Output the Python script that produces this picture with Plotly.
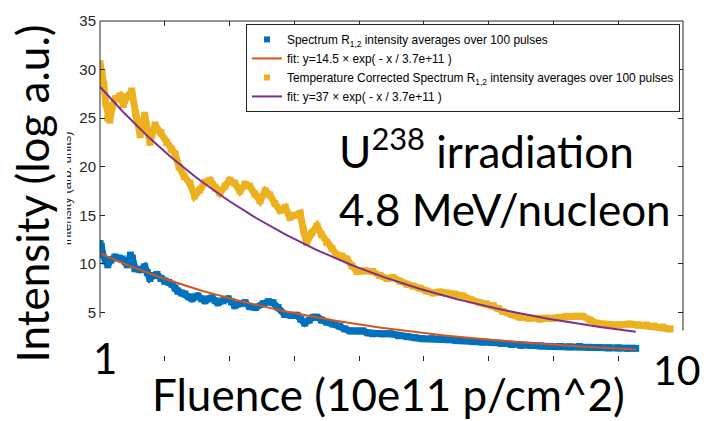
import plotly.graph_objects as go
import numpy as np

# ---------------- data (x in units of 1e11 p/cm^2) ----------------
blue_x = [1.00, 1.02, 1.04, 1.08, 1.12, 1.17, 1.23, 1.29, 1.34, 1.39, 1.42, 1.47, 1.50, 1.54,
          1.62, 1.69, 1.73, 1.77, 1.83, 1.88, 1.94, 2.00, 2.06, 2.11, 2.16, 2.20, 2.26, 2.31,
          2.37, 2.42, 2.47, 2.51, 2.57, 2.62, 2.68, 2.73, 2.78, 2.82, 2.90, 2.98, 3.03, 3.08,
          3.16, 3.24, 3.31, 3.40, 3.52, 3.60, 3.67, 3.75, 3.85, 3.95, 4.04, 4.10, 4.16, 4.23,
          4.29, 4.35, 4.42, 4.50, 4.60, 4.70, 4.78, 4.86, 4.96, 5.06, 5.13, 5.21, 5.35, 5.48,
          5.61, 5.74, 5.86, 5.98, 6.12, 6.25, 6.38, 6.50, 6.63, 6.76, 6.90, 7.05, 7.20, 7.35,
          7.50, 7.64, 7.80, 7.95, 8.10, 8.25, 8.40, 8.55, 8.70, 8.85, 9.00, 9.15, 9.27]
blue_y = [12.1, 11.8, 11.0, 10.3, 9.9, 10.4, 10.7, 10.6, 10.5, 10.2, 9.9, 10.9, 10.6, 9.5,
          9.4, 9.7, 9.1, 8.5, 8.8, 8.9, 8.5, 8.2, 8.1, 7.9, 7.5, 7.2, 7.0, 6.9,
          6.6, 6.4, 6.6, 6.7, 6.4, 6.2, 6.4, 6.5, 6.2, 6.0, 6.2, 6.4, 6.1, 5.7,
          5.9, 6.0, 5.6, 5.5, 5.9, 6.1, 6.0, 5.5, 4.8, 4.7, 4.7, 4.3, 3.9, 4.2,
          4.5, 4.5, 4.2, 4.0, 3.8, 3.6, 3.3, 3.1, 3.1, 3.1, 2.9, 2.8, 2.8, 2.8,
          2.6, 2.5, 2.4, 2.3, 2.3, 2.3, 2.2, 2.1, 2.1, 2.0, 1.95, 1.9, 1.8, 1.7,
          1.6, 1.6, 1.55, 1.5, 1.5, 1.45, 1.5, 1.4, 1.4, 1.35, 1.35, 1.3, 1.3]

yel_x = [1.00, 1.03, 1.06, 1.09, 1.12, 1.15, 1.19, 1.24, 1.31, 1.36, 1.42, 1.49, 1.55, 1.62,
         1.69, 1.77, 1.85, 1.94, 2.03, 2.10, 2.16, 2.22, 2.30, 2.39, 2.46, 2.54, 2.62, 2.70,
         2.78, 2.85, 2.93, 3.00, 3.08, 3.16, 3.24, 3.31, 3.39, 3.47, 3.55, 3.62, 3.70, 3.78,
         3.86, 3.93, 4.01, 4.09, 4.14, 4.19, 4.27, 4.35, 4.42, 4.50, 4.58, 4.66, 4.73, 4.81,
         4.89, 4.97, 5.09, 5.21, 5.32, 5.43, 5.52, 5.63, 5.74, 5.84, 5.94, 6.04, 6.14, 6.25,
         6.35, 6.47, 6.60, 6.73, 6.86, 6.96, 7.07, 7.15, 7.22, 7.35, 7.48, 7.63, 7.79, 7.89,
         7.99, 8.10, 8.20, 8.33, 8.45, 8.56, 8.67, 8.77, 8.87, 9.02, 9.18, 9.31, 9.44, 9.56,
         9.69, 9.80]
yel_y = [30.6, 29.6, 28.4, 26.5, 25.0, 24.8, 26.2, 27.0, 27.3, 26.4, 27.2, 27.8, 25.5, 23.3,
         25.3, 22.5, 24.3, 23.5, 22.5, 21.8, 21.3, 20.0, 19.0, 18.3, 17.0, 17.6, 18.4, 18.6,
         17.8, 17.3, 18.0, 18.6, 18.3, 17.5, 18.2, 18.0, 17.2, 16.5, 17.5, 17.1, 16.2, 15.5,
         15.8, 14.8, 15.0, 15.2, 13.5, 12.2, 13.2, 13.9, 13.0, 12.2, 11.6, 10.9, 10.8, 10.5,
         9.8, 9.2, 9.3, 9.2, 8.8, 8.5, 8.6, 8.2, 7.9, 7.7, 7.5, 7.2, 7.0, 7.1,
         7.0, 6.9, 6.7, 6.3, 6.0, 5.9, 5.7, 5.4, 5.1, 4.8, 4.5, 4.4, 4.3, 4.4,
         4.4, 4.5, 4.6, 4.6, 4.6, 4.2, 3.9, 3.8, 3.7, 3.7, 3.8, 3.7, 3.7, 3.6,
         3.5, 3.3]

# fit parameters as given in the legend: y = A * exp(-x / tau), tau = 3.7e11 -> 3.7 in 1e11 units
fit1_A = 14.5
fit2_A = 37.0
fit_tau = 3.7
fit_x_start = 1.0
fit_x_end = 9.27

y_ticks = [5, 10, 15, 20, 25, 30, 35]
x_ticks = [1, 2, 3, 4, 5, 6, 7, 8, 9, 10]

BLUE = "#0072BD"
ORANGE = "#D95319"
YELLOW = "#EDB120"
PURPLE = "#7E2F8E"
AXC = "#262626"

fit_x = np.linspace(fit_x_start, fit_x_end, 200)
fit1_y = fit1_A * np.exp(-fit_x / fit_tau)
fit2_y = fit2_A * np.exp(-fit_x / fit_tau)

W, H = 704, 421
L, R, T, B = 100, 21, 14, 60
PW, PH = W - L - R, H - T - B


def px(xp):
    return (xp - L) / PW


def py(yp):
    return (H - B - yp) / PH


fig = go.Figure()

band = dict(mode="lines+markers", line=dict(width=7), marker=dict(symbol="square", size=7),
            showlegend=False, hoverinfo="skip")
fig.add_trace(go.Scatter(x=blue_x, y=blue_y, line_color=BLUE, marker_color=BLUE, **band))
fig.add_trace(go.Scatter(x=fit_x, y=fit1_y, mode="lines", line=dict(color=ORANGE, width=2),
                         name="fit: y=14.5 × exp( - x / 3.7e+11 )", legendrank=2))
fig.add_trace(go.Scatter(x=yel_x, y=yel_y, line_color=YELLOW, marker_color=YELLOW, **band))
fig.add_trace(go.Scatter(x=fit_x, y=fit2_y, mode="lines", line=dict(color=PURPLE, width=2),
                         name="fit: y=37 × exp( - x / 3.7e+11 )", legendrank=4))
# legend-only markers for the data series
fig.add_trace(go.Scatter(x=[None], y=[None], mode="markers",
                         marker=dict(symbol="square", size=6, color=BLUE),
                         name="Spectrum R<sub>1,2</sub> intensity averages over 100 pulses", legendrank=1))
fig.add_trace(go.Scatter(x=[None], y=[None], mode="markers",
                         marker=dict(symbol="square", size=6, color=YELLOW),
                         name="Temperature Corrected Spectrum R<sub>1,2</sub> intensity averages over 100 pulses",
                         legendrank=3))

big = dict(family="Lato, 'Open Sans', sans-serif", color="black")
C = dict(xref="paper", yref="paper", xanchor="center", yanchor="middle", showarrow=False)

annotations = [
    # original (mostly covered) axis title
    dict(text="Intensity (arb. units)", x=px(67), y=py(185), textangle=-90,
         font=dict(family="Liberation Sans, Arial", size=13, color=AXC), **C),
    dict(text="Intensity (log a.u.)", x=px(32), y=py(190), textangle=-90,
         font=dict(size=44, **big), bgcolor="white", height=68, **C),
    dict(text="Fluence (10e11 p/cm^2)", x=px(388), y=py(395), font=dict(size=44, **big), **C),
    dict(text="1", x=px(105), y=py(358), font=dict(size=42, **big), bgcolor="white", **C),
    dict(text="10", x=px(677), y=py(370), font=dict(size=41, **big), bgcolor="white", **C),
    dict(text="U<sup>238</sup> irradiation<br>4.8 MeV/nucleon", x=px(337), y=py(174),
         xref="paper", yref="paper", xanchor="left", yanchor="middle", align="left",
         showarrow=False, font=dict(size=44, **big)),
]

shapes = [
    dict(type="line", xref="paper", yref="paper", x0=0, x1=1, y0=1, y1=1, line=dict(color=AXC, width=1)),
    dict(type="line", xref="paper", yref="paper", x0=0, x1=0, y0=1, y1=py(317), line=dict(color=AXC, width=1)),
    dict(type="line", xref="paper", yref="paper", x0=1, x1=1, y0=1, y1=py(330), line=dict(color=AXC, width=1)),
]

fig.update_layout(
    width=W, height=H,
    margin=dict(l=L, r=R, t=T, b=B, pad=0),
    plot_bgcolor="white", paper_bgcolor="white",
    font=dict(family="Liberation Sans, Arial, sans-serif", color=AXC),
    xaxis=dict(range=[1, 10], tickvals=x_ticks, showticklabels=False, ticks="inside", ticklen=5,
               tickcolor=AXC, showline=False, mirror="ticks", showgrid=False, zeroline=False),
    yaxis=dict(range=[0, 35], tickvals=y_ticks, ticks="inside", ticklen=5, tickcolor=AXC,
               showline=False, mirror="ticks", showgrid=False, zeroline=False,
               tickfont=dict(size=15, color=AXC), ticklabelstandoff=3),
    legend=dict(x=px(246), y=py(17), xanchor="left", yanchor="top",
                bordercolor=AXC, borderwidth=1, bgcolor="white",
                font=dict(size=11.9, color="black", family="Liberation Sans, Arial"),
                tracegroupgap=0, itemwidth=30),
    annotations=annotations,
    shapes=shapes,
    showlegend=True,
)

fig.write_html("out.html")
